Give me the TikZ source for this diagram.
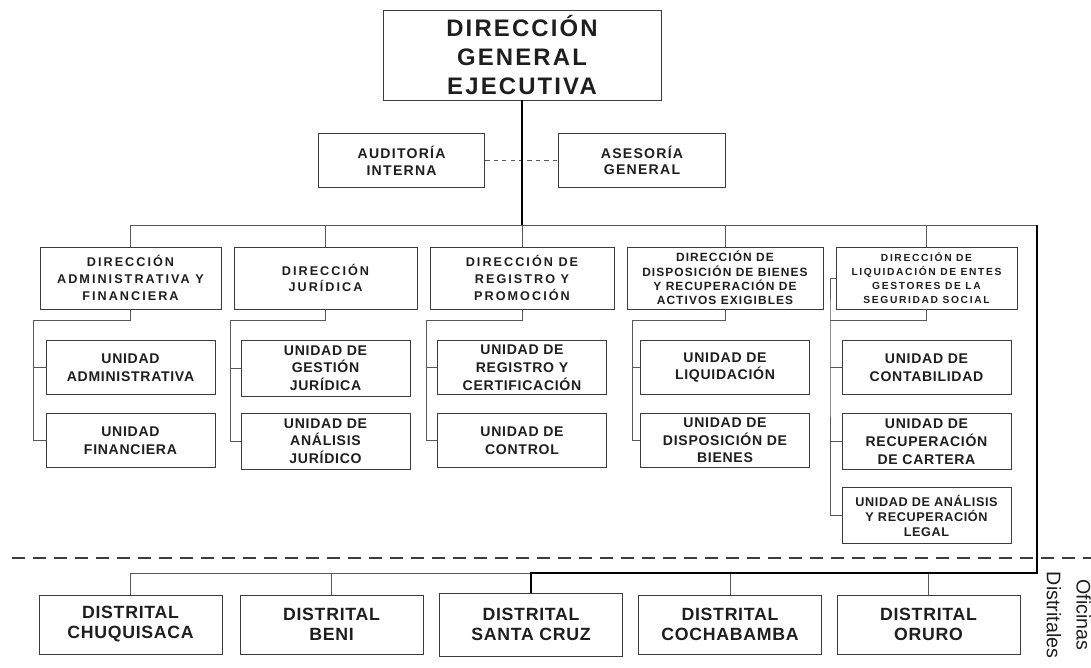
\documentclass[tikz,border=0pt]{standalone}
\usepackage{fontspec}
\setmainfont{Liberation Sans}
\newfontfamily\fdge[LetterSpace=9]{Liberation Sans}
\newfontfamily\fstaff[LetterSpace=9]{Liberation Sans}
\newfontfamily\fdir[LetterSpace=16]{Liberation Sans}
\newfontfamily\fdirb[LetterSpace=9]{Liberation Sans}
\newfontfamily\funi[LetterSpace=5]{Liberation Sans}
\newfontfamily\fdis[LetterSpace=4]{Liberation Sans}
\usetikzlibrary{positioning}

\definecolor{borde}{HTML}{3C3C3C}
\definecolor{linea}{HTML}{585858}
\definecolor{texto}{HTML}{1E1E1E}

\tikzset{
  caja/.style={draw=borde, line width=0.7pt, align=center, inner sep=0pt, text=texto},
  general/.style={caja, minimum width=6.95cm, minimum height=2.25cm,
    font=\fdge\bfseries\fontsize{17}{20.6}\selectfont},
  staff/.style={caja, minimum width=4.16cm, minimum height=1.35cm,
    font=\fstaff\bfseries\fontsize{10}{11.9}\selectfont},
  direccion/.style={caja, minimum height=1.55cm,
    font=\fdir\bfseries\fontsize{9}{12}\selectfont},
  unidad/.style={caja, minimum width=4.225cm, minimum height=1.35cm,
    font=\funi\bfseries\fontsize{10}{12.6}\selectfont},
  distrital/.style={caja, minimum width=4.575cm, minimum height=1.475cm,
    font=\fdis\bfseries\fontsize{12.6}{14.2}\selectfont},
  conector/.style={draw=linea, line width=0.7pt},
  troncal/.style={draw=black, line width=1.5pt},
}

\begin{document}
\begin{tikzpicture}
    \useasboundingbox (0,0) rectangle (27.275,-16.675);

    \node (dge) [general] at (13.05,-1.375) {DIRECCIÓN\\GENERAL\\EJECUTIVA};
    \node (aud) [staff] at (10.04,-4.01) {AUDITORÍA\\INTERNA};
    \node (ase) [staff] at (16.05,-4.01) {ASESORÍA\\GENERAL};

    \node (daf) [direccion, minimum width=4.525cm] at (3.2625,-6.95) {DIRECCIÓN\\ADMINISTRATIVA Y\\FINANCIERA};
    \node (dj) [direccion, minimum width=4.575cm] at (8.1375,-6.95) {DIRECCIÓN\\JURÍDICA};
    \node (drp) [direccion, minimum width=4.6cm] at (13.05,-6.95) {DIRECCIÓN DE\\REGISTRO Y\\PROMOCIÓN};
    \node (ddb) [direccion, minimum width=4.9cm, font=\fdirb\bfseries\fontsize{8.5}{10.2}\selectfont] at (18.125,-6.95) {DIRECCIÓN DE\\DISPOSICIÓN DE BIENES\\Y RECUPERACIÓN DE\\ACTIVOS EXIGIBLES};
    \node (dle) [direccion, minimum width=4.525cm, font=\fdir\bfseries\fontsize{7.3}{10}\selectfont] at (23.1625,-6.95) {DIRECCIÓN DE\\LIQUIDACIÓN DE ENTES\\GESTORES DE LA\\SEGURIDAD SOCIAL};

    \node (ua) [unidad, below of=daf, node distance=2.24cm] {UNIDAD\\ADMINISTRATIVA};
    \node (uf) [unidad, below of=ua, node distance=1.82cm] {UNIDAD\\FINANCIERA};
    \node (ugj) [unidad, below of=dj, node distance=2.25cm, minimum height=1.4cm] {UNIDAD DE\\GESTIÓN\\JURÍDICA};
    \node (uaj) [unidad, below of=ugj, node distance=1.83cm, minimum height=1.4cm] {UNIDAD DE\\ANÁLISIS\\JURÍDICO};
    \node (urc) [unidad, below of=drp, node distance=2.24cm] {UNIDAD DE\\REGISTRO Y\\CERTIFICACIÓN};
    \node (uc) [unidad, below of=urc, node distance=1.82cm] {UNIDAD DE\\CONTROL};
    \node (ul) [unidad, below of=ddb, node distance=2.24cm] {UNIDAD DE\\LIQUIDACIÓN};
    \node (udb) [unidad, below of=ul, node distance=1.82cm] {UNIDAD DE\\DISPOSICIÓN DE\\BIENES};
    \node (ucon) [unidad, below of=dle, node distance=2.24cm] {UNIDAD DE\\CONTABILIDAD};
    \node (ucar) [unidad, below of=ucon, node distance=1.85cm, minimum height=1.4cm] {UNIDAD DE\\RECUPERACIÓN\\DE CARTERA};
    \node (uar) [unidad, below of=ucar, node distance=1.85cm, minimum height=1.4cm, font=\funi\bfseries\fontsize{9}{10.7}\selectfont] {UNIDAD DE ANÁLISIS\\Y RECUPERACIÓN\\LEGAL};

    \node (dch) [distrital] at (3.2625,-15.6125) {DISTRITAL\\CHUQUISACA};
    \node (dbe) [distrital] at (8.2875,-15.6125) {DISTRITAL\\BENI};
    \node (dsc) [distrital, minimum height=1.575cm] at (13.275,-15.6125) {DISTRITAL\\SANTA CRUZ};
    \node (dco) [distrital] at (18.25,-15.6125) {DISTRITAL\\COCHABAMBA};
    \node (dor) [distrital] at (23.2125,-15.6125) {DISTRITAL\\ORURO};

    \node (ofi) [rotate=-90, align=center, inner sep=0pt, text=texto, font=\fontsize{14}{21.3}\selectfont] at (26.72,-15.375) {Oficinas\\Distritales};

    \coordinate (barra) at (25.925,-5.625);
    \coordinate (esq) at (25.925,-14.325);
    \coordinate (sep1) at (0.3,-13.95);
    \coordinate (sep2) at (27.275,-13.95);
    \coordinate (t1) at (0.825,-8.0);
    \coordinate (t2) at (5.75,-8.0);
    \coordinate (t3) at (10.65,-8.0);
    \coordinate (t4) at (15.8,-8.0);
    \coordinate (t5) at (20.75,-8.0);

    \draw[conector, dashed] (aud.east) -- (ase.west);
    \draw[conector] (daf.north) |- (barra);
    \draw[conector] (dj.north) -- (dj.north |- barra);
    \draw[conector] (drp.north) -- (drp.north |- barra);
    \draw[conector] (ddb.north) -- (ddb.north |- barra);
    \draw[conector] (dle.north) -- (dle.north |- barra);
    \draw[troncal] (dge.south) -- (dge.south |- barra);

    \draw[conector] (daf.south) |- (t1) |- (uf.west);
    \draw[conector] (ua.west) -- (ua.west -| t1);
    \draw[conector] (dj.south) |- (t2) |- (uaj.west);
    \draw[conector] (ugj.west) -- (ugj.west -| t2);
    \draw[conector] (drp.south) |- (t3) |- (uc.west);
    \draw[conector] (urc.west) -- (urc.west -| t3);
    \draw[conector] (ddb.south) |- (t4) |- (udb.west);
    \draw[conector] (ul.west) -- (ul.west -| t4);
    \draw[conector] (dle.west) -| (t5) |- (uar.west);
    \draw[conector] (dle.south) |- (t5);
    \draw[conector] (ucon.west) -- (ucon.west -| t5);
    \draw[conector] (ucar.west) -- (ucar.west -| t5);

    \draw[draw=borde, line width=0.8pt, dash pattern=on 0.325cm off 0.2cm] (sep1) -- (sep2);

    \draw[conector] (dch.north) |- (dsc.north |- esq);
    \draw[conector] (dbe.north) -- (dbe.north |- esq);
    \draw[conector] (dco.north) -- (dco.north |- esq);
    \draw[conector] (dor.north) -- (dor.north |- esq);
    \draw[troncal, line width=1.2pt] (barra) -- (esq) -- (dsc.north |- esq) -- (dsc.north);

\end{tikzpicture}
\end{document}
